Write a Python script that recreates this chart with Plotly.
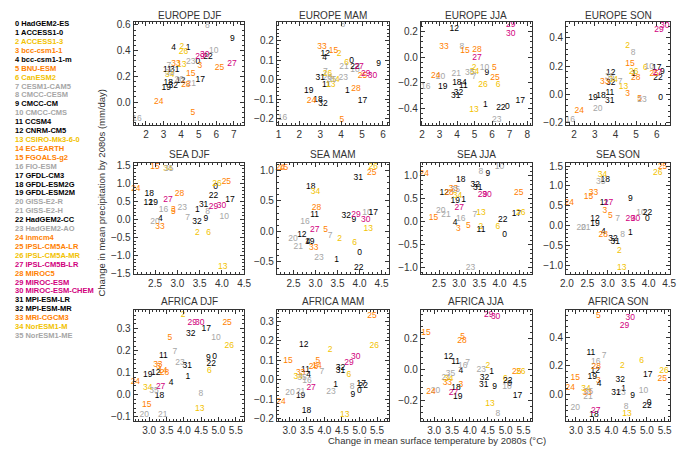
import plotly.graph_objects as go

# CMIP5 models (legend order)
models = ["HadGEM2-ES", "ACCESS1-0", "ACCESS1-3", "bcc-csm1-1", "bcc-csm1-1-m", "BNU-ESM",
          "CanESM2", "CESM1-CAM5", "CMCC-CESM", "CMCC-CM", "CMCC-CMS", "CCSM4",
          "CNRM-CM5", "CSIRO-Mk3-6-0", "EC-EARTH", "FGOALS-g2", "FIO-ESM", "GFDL-CM3",
          "GFDL-ESM2G", "GFDL-ESM2M", "GISS-E2-R", "GISS-E2-H", "HadGEM2-CC", "HadGEM2-AO",
          "inmcm4", "IPSL-CM5A-LR", "IPSL-CM5A-MR", "IPSL-CM5B-LR", "MIROC5", "MIROC-ESM",
          "MIROC-ESM-CHEM", "MPI-ESM-LR", "MPI-ESM-MR", "MRI-CGCM3", "NorESM1-M", "NorESM1-ME"]

panel_titles = ["EUROPE DJF", "EUROPE MAM", "EUROPE JJA", "EUROPE SON",
                "SEA DJF", "SEA MAM", "SEA JJA", "SEA SON",
                "AFRICA DJF", "AFRICA MAM", "AFRICA JJA", "AFRICA SON"]

N = None
# temperature change (x) and precipitation change (y) per model, None = not plotted
eur_djf_x = [4.95, 4.40, 4.04, 5.07, 3.58, 4.67, N, 3.31, 5.49, 6.91, 5.85, 3.22, 3.98, 4.04, N, 4.55, 1.49, 5.09,
             3.27, 3.16, 3.89, 4.58, 5.53, 4.55, 2.73, 6.18, 4.13, 6.89, 4.27, 5.07, 5.35, 3.64, 3.55, 3.71, 3.36, 3.36]
eur_djf_y = [0.313, 0.42, 0.43, 0.28, 0.42, -0.084, N, 0.28, 0.59, 0.494, 0.40, 0.25, 0.164, 0.29, N, 0.22, -0.133, 0.173,
             0.15, 0.113, 0.173, 0.145, 0.354, 0.31, 0.0, 0.265, 0.39, 0.30, 0.133, 0.35, 0.366, 0.25, 0.128, 0.296, 0.21, 0.23]

eur_mam_x = [4.5, 4.3, 3.9, N, 3.21, 4.03, 4.26, 3.24, 4.08, 5.8, 4.66, 3.29, 3.24, 3.5, N, 3.63, 1.19, 5.02,
             2.89, 2.45, 3.35, 4.14, 4.66, 4.1, 2.58, 5.02, 3.35, 4.85, 4.71, 5.18, 5.5, 3.0, 3.13, 3.08, 3.71, 3.55]
eur_mam_y = [0.095, -0.056, 0.135, N, 0.11, -0.206, 0.084, 0.04, 0.281, 0.079, 0.048, -0.029, 0.135, -0.029, N, 0.146, -0.195, -0.111,
             -0.106, -0.059, 0.011, 0.067, 0.068, 0.011, -0.111, 0.021, 0.027, 0.068, -0.048, 0.032, 0.019, 0.011, -0.127, 0.17, 0.0, 0.0]

eur_jja_x = [6.87, 5.62, 4.97, N, 4.42, 6.13, 6.35, 4.97, 4.27, 5.7, 5.57, 4.36, 3.84, 4.97, N, 4.45, 2.22, 7.61,
             3.99, 3.19, 3.06, 3.95, 6.5, 6.27, 2.78, 6.16, 5.48, 5.14, 5.14, 7.06, 7.06, 3.93, 4.08, 3.25, 5.0, 4.73]
eur_jja_y = [-0.384, -0.372, -0.082, N, -0.197, -0.082, -0.214, -0.149, 0.084, -0.125, -0.082, -0.221, 0.223, -0.406, N, 0.05, -0.228, -0.34,
             -0.197, -0.233, -0.149, -0.13, -0.396, -0.485, -0.144, -0.161, -0.214, -0.005, 0.06, 0.252, 0.18, -0.30, -0.276, 0.084, -0.113, -0.118]

eur_son_x = [6.19, 4.89, 4.59, 4.59, N, 5.17, 5.45, 4.23, 4.86, 6.27, 5.64, 3.73, 3.77, 4.39, N, 4.7, 1.81, 6.0,
             3.3, 2.91, 3.14, N, 6.06, 5.28, 2.25, 5.88, 4.89, 6.03, 4.98, 6.11, 6.39, 3.73, 3.77, 3.48, 3.89, 3.72]
eur_son_y = [-0.022, 0.142, 0.345, 0.002, N, -0.033, 0.188, 0.09, 0.295, 0.16, 0.197, 0.011, 0.155, 0.05, N, 0.218, -0.179, 0.188,
             -0.009, -0.022, -0.103, N, 0.116, -0.041, -0.118, 0.148, 0.16, 0.153, 0.116, 0.454, 0.483, -0.048, 0.079, 0.09, 0.1, 0.122]

sea_djf_x = [3.86, 3.45, 3.45, 2.91, 2.62, 2.91, 3.7, 3.23, 3.68, 3.64, 4.05, N, 2.35, 4.02, N, 2.5, 2.69, 4.18,
             2.37, 2.46, 2.5, N, 3.81, 3.11, 2.07, 4.1, 3.89, 2.79, 3.05, 3.81, 3.99, 3.59, 3.44, 2.61, 2.79, 2.81]
sea_djf_y = [0.89, 0.27, -0.36, 0.27, 0.03, 0.21, -0.36, 0.05, 0.21, 0.01, 0.07, N, 0.45, -1.31, N, 1.46, 0.27, 0.53,
             0.71, 0.46, -0.08, N, 0.65, 0.32, 0.86, 1.05, 1.0, 0.55, 0.71, 0.35, 0.37, 0.41, -0.06, -0.2, 1.41, 1.39]

sea_mam_x = [4.0, 3.48, 3.55, N, 2.83, 3.23, 3.89, 3.33, N, 3.87, 4.17, 2.98, 2.69, 4.2, N, 2.27, 2.76, 4.31,
             2.89, 2.87, 2.49, 2.61, 3.98, 3.08, 2.2, 4.28, 4.31, 2.98, 3.02, 3.92, 4.14, 3.97, 3.7, 2.96, 3.0, N]
sea_mam_y = [-0.35, -0.47, -0.13, N, -0.18, 0.03, -0.19, -0.08, N, 0.19, 0.3, 0.27, -0.05, 0.04, N, 1.03, 0.15, 0.3,
             0.72, -0.17, -0.12, -0.26, -0.59, -0.43, 1.03, 0.95, 1.06, 0.03, 0.39, 0.27, 0.19, 0.88, 0.26, -0.27, 0.64, N]

sea_jja_x = [4.13, 3.11, 3.54, 2.98, 2.9, 3.23, 3.96, 3.39, 3.54, 3.71, 4.0, 3.54, 2.63, 3.54, N, 2.36, 3.04, 4.42,
             3.04, 2.9, 2.54, 2.67, 4.08, 3.28, 2.13, 4.48, 4.53, 3.0, 2.75, 3.58, 3.69, 3.46, 3.4, 2.86, 2.96, 2.9]
sea_jja_y = [-0.28, 0.47, -0.11, -0.16, -0.03, -0.09, -0.11, 0.15, 1.08, 1.05, 1.19, -0.18, 0.63, 0.2, N, 0.09, 0.07, 0.17,
             0.92, 0.45, 0.24, 0.15, 0.04, -1.0, 1.05, 0.63, 0.2, 0.31, 0.63, 0.58, 0.58, 0.74, 0.81, 0.72, 0.55, 0.69]

sea_son_x = [3.97, 3.55, 3.28, 2.93, 2.89, 3.06, N, 3.24, 3.36, 3.55, 3.81, 2.91, 2.69, 3.34, N, 2.53, N, N,
             2.94, 2.69, 2.35, 2.46, 3.97, N, 2.06, 4.34, 4.22, 3.02, 2.89, 3.55, 3.68, 3.18, 3.13, 2.65, 2.87, 2.83]
sea_son_y = [0.17, -0.18, -0.63, 0.38, -0.17, 0.25, N, 0.18, -0.23, 0.67, 0.33, 0.56, 0.17, -1.06, N, 0.73, N, N,
             1.15, 0.03, -0.07, -0.07, 0.33, N, 0.58, 1.48, 1.32, 0.57, -0.23, 0.18, 0.17, -0.4, -0.33, 0.83, 1.28, 1.1]

afr_djf_x = [4.89, 4.12, 3.98, 3.27, 3.63, 3.6, 4.74, 3.74, 4.49, 4.71, 4.93, 3.41, 3.19, 4.46, 3.39, 2.93, N, 4.65,
             3.3, 2.96, 2.86, 3.39, 4.79, 3.89, 2.6, 5.25, 5.31, 3.33, 3.44, 4.24, 4.46, 4.1, 4.2, 3.25, 2.96, 3.14]
afr_djf_y = [0.17, 0.079, 0.359, 0.126, 0.052, 0.255, 0.107, 0.196, 0.003, 0.167, 0.256, 0.178, 0.1, -0.062, 0.107, -0.047, N, 0.3,
             -0.004, 0.089, -0.089, -0.089, 0.138, 0.145, 0.059, 0.323, 0.222, 0.037, 0.1, 0.323, 0.323, 0.133, 0.274, 0.136, 0.03, 0.018]

afr_mam_x = [5.0, 4.32, 4.16, N, 3.55, 3.81, 4.7, 3.93, 4.79, 4.81, N, 3.46, 3.41, 4.58, 3.79, 2.96, 3.5, 5.05,
             3.49, 3.32, 3.02, 3.32, 5.11, 4.19, 2.76, 5.36, 5.42, 3.62, 3.69, 4.7, 4.89, 4.46, 4.46, 3.32, 3.25, 3.36]
afr_mam_y = [-0.059, -0.027, 0.153, N, 0.025, 0.097, 0.025, 0.041, -0.039, -0.076, N, 0.051, 0.178, -0.183, 0.071, 0.097, -0.008, -0.022,
             -0.158, -0.085, -0.069, -0.061, -0.034, -0.064, -0.115, 0.33, 0.173, -0.044, 0.068, 0.088, 0.119, 0.046, 0.063, 0.037, 0.015, 0.007]

afr_jja_x = [5.11, 4.61, 4.5, 3.75, 3.75, 3.8, 4.99, 3.94, 4.78, 4.69, 5.04, 3.6, 3.4, 4.56, N, 2.77, 3.8, 5.33,
             3.61, 3.66, 3.04, 3.34, 5.06, 4.32, 2.91, 5.31, 5.42, 3.54, 3.78, 4.53, 4.72, 4.39, 4.41, 3.37, 3.41, 3.46]
afr_jja_y = [-0.092, -0.017, 0.021, -0.098, -0.011, 0.214, -0.06, 0.043, -0.291, -0.113, -0.113, 0.047, 0.084, -0.227, N, 0.236, 0.026, -0.171,
             -0.12, -0.178, -0.139, -0.054, -0.077, 0.0, -0.146, -0.017, -0.017, -0.15, 0.19, 0.358, 0.347, -0.103, -0.056, -0.086, -0.064, -0.028]

afr_son_x = [5.06, 4.34, 4.31, 3.63, 3.65, 3.63, 4.85, 3.79, 4.41, 4.6, 4.9, 3.42, 3.54, 4.44, N, 2.98, 3.56, 5.02,
             3.51, 3.46, 2.98, 3.34, 5.0, 4.27, 2.84, 5.43, 5.48, 3.56, 3.57, 4.37, 4.53, 4.13, 4.25, 3.32, 3.28, 3.35]
afr_son_y = [-0.065, 0.035, 0.198, 0.091, 0.074, 0.556, 0.233, 0.272, -0.088, -0.012, 0.021, 0.295, 0.167, -0.14, N, 0.114, 0.226, 0.133,
             -0.147, 0.121, -0.1, -0.019, -0.084, 0.005, 0.044, 0.109, 0.167, -0.119, 0.191, 0.481, 0.54, 0.005, 0.098, 0.01, 0.035, 0.012]

panel_data = [(eur_djf_x, eur_djf_y), (eur_mam_x, eur_mam_y), (eur_jja_x, eur_jja_y), (eur_son_x, eur_son_y),
              (sea_djf_x, sea_djf_y), (sea_mam_x, sea_mam_y), (sea_jja_x, sea_jja_y), (sea_son_x, sea_son_y),
              (afr_djf_x, afr_djf_y), (afr_mam_x, afr_mam_y), (afr_jja_x, afr_jja_y), (afr_son_x, afr_son_y)]

# --- styling ---
BLK, ORG, YEL, GRY, MAG = "#000000", "#ff7f00", "#f2c200", "#a6a6a6", "#d1007d"
model_colors = [BLK, BLK, YEL, ORG, BLK, ORG, YEL, GRY, GRY, BLK, GRY, BLK,
                BLK, YEL, ORG, ORG, GRY, BLK, BLK, BLK, GRY, GRY, BLK, GRY,
                ORG, ORG, YEL, MAG, ORG, MAG, MAG, BLK, BLK, ORG, YEL, GRY]

# page has an 8px body margin, so the figure is 16px smaller than the window
OFF = 8
W, H = 685 - 2 * OFF, 460 - 2 * OFF
def fx(px): return min(max((px - OFF) / W, 0), 1)
def fy(py): return min(max(1 - (py - OFF) / H, 0), 1)

# panel boxes in window pixels
col_px = [(130, 243), (276, 390), (423, 536), (571, 677)]
row_px = [(19, 124), (163, 276), (313, 426)]
title_py = [12.5, 154, 305]
x_ranges = [[1.3, 7.6], [0.92, 6.27], [1.94, 8.26], [1.61, 6.64],
            [2.02, 4.505], [2.12, 4.66], [2.05, 4.8], [1.98, 4.52],
            [2.55, 5.75], [2.64, 5.83], [2.63, 5.73], [2.72, 5.65]]
y_ranges = [[-0.175, 0.625], [-0.232, 0.298], [-0.525, 0.277], [-0.215, 0.514],
            [-1.5, 1.57], [-0.69, 1.12], [-1.13, 1.28], [-1.21, 1.58],
            [-0.116, 0.384], [-0.21, 0.36], [-0.334, 0.39], [-0.188, 0.598]]
x_dt = [1, 1, 1, 1, 0.5, 0.5, 0.5, 0.5, 0.5, 0.5, 0.5, 0.5]
y_dt = [0.2, 0.1, 0.2, 0.2, 0.5, 0.5, 0.5, 0.5, 0.1, 0.1, 0.2, 0.2]

FONT = "Liberation Sans"
LC = "#333333"

fig = go.Figure()
annotations = []

for k, (xs, ys) in enumerate(panel_data):
    r, c = divmod(k, 4)
    sfx = "" if k == 0 else str(k + 1)
    pts = [(x, y, str(i), model_colors[i]) for i, (x, y) in enumerate(zip(xs, ys)) if x is not None]
    fig.add_trace(go.Scatter(
        x=[p[0] for p in pts], y=[p[1] for p in pts], text=[p[2] for p in pts],
        mode="text", textposition="middle center",
        textfont=dict(family=FONT, size=8.5, color=[p[3] for p in pts]),
        xaxis="x" + sfx, yaxis="y" + sfx, showlegend=False, hoverinfo="skip", cliponaxis=False))

    x0, x1 = col_px[c]
    y0, y1 = row_px[r]
    common = dict(showgrid=False, zeroline=False, showline=True, linecolor=LC, linewidth=1,
                  mirror="allticks", ticks="inside", ticklen=4, tickcolor=LC, tickwidth=1,
                  tickfont=dict(family=FONT, size=10, color=LC), tickformat=".1f")
    fig.layout["xaxis" + sfx] = dict(
        common, domain=[fx(x0), fx(x1)], range=x_ranges[k], dtick=x_dt[k], tick0=0,
        tickformat="d" if x_dt[k] == 1 else ".1f", anchor="y" + sfx,
        minor=dict(ticks="inside", ticklen=2, tickcolor=LC, dtick=x_dt[k] / 5))
    fig.layout["yaxis" + sfx] = dict(
        common, domain=[fy(y1), fy(y0)], range=y_ranges[k], dtick=y_dt[k], tick0=0,
        anchor="x" + sfx,
        minor=dict(ticks="inside", ticklen=2, tickcolor=LC, dtick=y_dt[k] / 5))

    annotations.append(dict(text=panel_titles[k], x=fx((x0 + x1) / 2), y=fy(title_py[r]),
                            xref="paper", yref="paper", showarrow=False,
                            xanchor="center", yanchor="middle", borderpad=0,
                            font=dict(family=FONT, size=10, color=LC)))

# model legend on the left
for i, name in enumerate(models):
    annotations.append(dict(text=f"<b>{i} {name}</b>", x=0, y=fy(21 + i * 9.09),
                            xref="paper", yref="paper", xanchor="left", yanchor="middle",
                            showarrow=False, borderpad=0,
                            font=dict(family=FONT, size=7.5, color=model_colors[i])))

annotations.append(dict(text="Change in mean precipitation by 2080s (mm/day)", textangle=-90,
                        x=fx(97), y=fy(193), xref="paper", yref="paper", showarrow=False,
                        xanchor="center", yanchor="middle",
                        font=dict(family=FONT, size=9.5, color=LC)))
annotations.append(dict(text="Change in mean surface temperature by 2080s (°C)",
                        x=fx(439), y=fy(446.5), xref="paper", yref="paper", showarrow=False,
                        xanchor="center", yanchor="middle", borderpad=0,
                        font=dict(family=FONT, size=9.5, color=LC)))

fig.update_layout(width=W, height=H, margin=dict(l=0, r=0, t=0, b=0),
                  plot_bgcolor="white", paper_bgcolor="white",
                  annotations=annotations, showlegend=False)

fig.write_html("out.html")
